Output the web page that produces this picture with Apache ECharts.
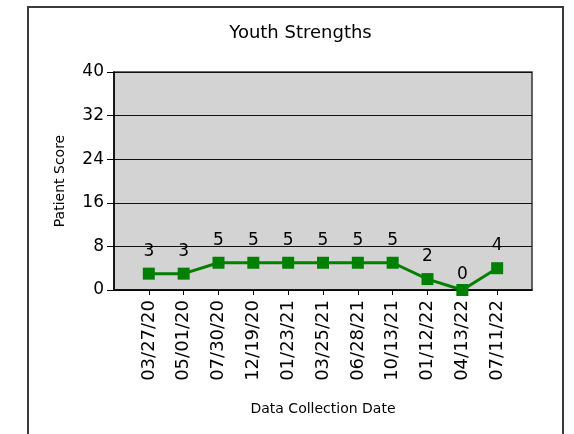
<!DOCTYPE html>
<html>
<head>
<meta charset="utf-8">
<script src="https://cdn.jsdelivr.net/npm/echarts@6/dist/echarts.min.js"></script>
<style>
html,body{margin:0;padding:0;background:#fff;}
#chart{width:574px;height:434px;}
</style>
</head>
<body>
<div id="chart"></div>
<script>
var categories = ['03/27/20','05/01/20','07/30/20','12/19/20','01/23/21','03/25/21','06/28/21','10/13/21','01/12/22','04/13/22','07/11/22'];
var scores = [3,3,5,5,5,5,5,5,2,0,4];
var yTicks = [0,8,16,24,32,40];

var FONT = 'DejaVu Sans';
var paddedCats = [''].concat(categories, ['']);
var seriesData = ['-'].concat(scores.map(function(v){
  return v === 0 ? {value: v, label: {distance: 1}} : v;
}), ['-']);

var chart = echarts.init(document.getElementById('chart'), null, {renderer:'canvas'});
chart.setOption({
  animation: false,
  backgroundColor: '#ffffff',
  title: {
    text: 'Youth Strengths',
    left: 295.5,
    top: 19,
    textAlign: 'center',
    textStyle: {fontFamily: FONT, fontSize: 18, fontWeight: 'normal', color: '#000'}
  },
  graphic: [{
    type: 'rect',
    shape: {x: 28, y: 7, width: 535, height: 460},
    style: {fill: 'none', stroke: '#3a3a3a', lineWidth: 2},
    silent: true
  }],
  grid: {
    left: 114, right: 42, top: 72, bottom: 144,
    show: true, backgroundColor: '#d3d3d3', borderColor: '#333', borderWidth: 1.5,
    containLabel: false
  },
  xAxis: {
    type: 'category',
    data: paddedCats,
    boundaryGap: false,
    name: 'Data Collection Date',
    nameLocation: 'middle',
    nameGap: 112,
    nameTextStyle: {fontFamily: FONT, fontSize: 14, color: '#000'},
    axisLine: {lineStyle: {color: '#000', width: 1.5}},
    axisTick: {show: true, length: 5, interval: function(i){ return i > 0 && i < paddedCats.length - 1; }, lineStyle: {color: '#000'}},
    axisLabel: {rotate: 90, interval: 0, margin: 10, fontFamily: FONT, fontSize: 18, color: '#000'},
    splitLine: {show: false}
  },
  yAxis: {
    type: 'value',
    min: yTicks[0],
    max: yTicks[yTicks.length - 1],
    interval: yTicks[1] - yTicks[0],
    name: 'Patient Score',
    nameLocation: 'middle',
    nameRotate: 90,
    nameGap: 47,
    nameTextStyle: {fontFamily: FONT, fontSize: 14, color: '#000'},
    axisLine: {show: true, lineStyle: {color: '#000', width: 1.5}},
    axisTick: {show: true, length: 7, lineStyle: {color: '#000'}},
    axisLabel: {margin: 10, fontFamily: FONT, fontSize: 17, color: '#000'},
    splitLine: {show: true, lineStyle: {color: '#111', width: 1}}
  },
  series: [{
    type: 'line',
    data: seriesData,
    symbol: 'rect',
    symbolSize: 12,
    connectNulls: false,
    lineStyle: {color: '#008000', width: 3},
    itemStyle: {color: '#008000'},
    label: {show: true, position: 'top', distance: 8, fontFamily: FONT, fontSize: 17, color: '#000'},
    z: 5
  }]
});
</script>
</body>
</html>
